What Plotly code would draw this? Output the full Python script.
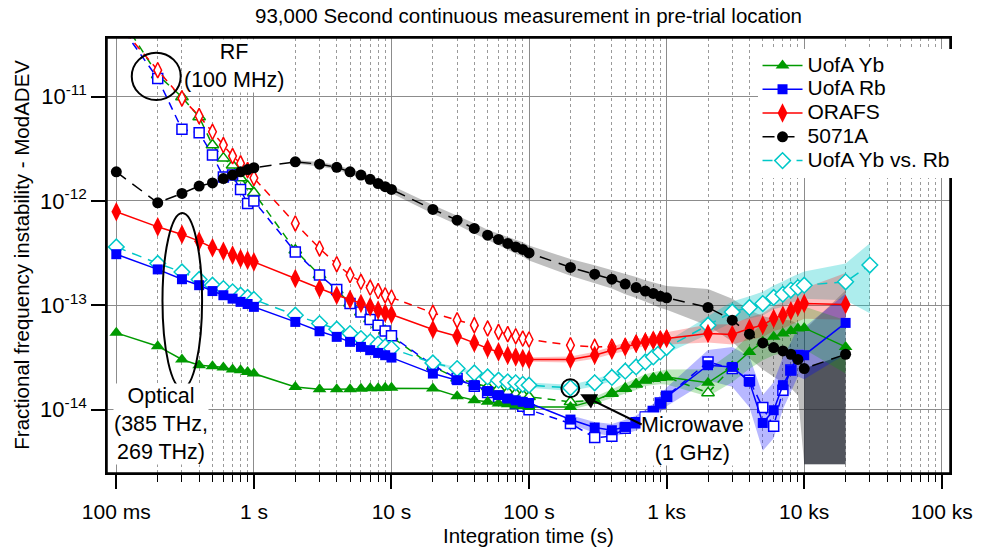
import plotly.graph_objects as go

# ---------------- data ----------------
taus = [0.1, 0.2, 0.3, 0.4, 0.5, 0.6, 0.7, 0.8, 0.9, 1,
        2, 3, 4, 5, 6, 7, 8, 9, 10,
        20, 30, 40, 50, 60, 70, 80, 90, 100,
        200, 300, 400, 500, 600, 700, 800, 900, 1000,
        2000, 3000, 4000, 5000, 6000, 7000, 8000, 9000, 10000, 20000]
taus_cyan = taus + [30000]
taus_red_rf = taus[:37]
taus_blue_rf = taus[:45]
taus_green_rf = taus[:39]

yb = [5.45e-14, 4.06e-14, 3.03e-14, 2.67e-14, 2.61e-14, 2.54e-14, 2.43e-14, 2.39e-14, 2.30e-14, 2.22e-14,
      1.65e-14, 1.57e-14, 1.57e-14, 1.57e-14, 1.59e-14, 1.61e-14, 1.61e-14, 1.62e-14, 1.62e-14,
      1.60e-14, 1.35e-14, 1.23e-14, 1.19e-14, 1.15e-14, 1.13e-14, 1.10e-14, 1.08e-14, 1.06e-14,
      1.06e-14, 1.23e-14, 1.43e-14, 1.60e-14, 1.75e-14, 1.92e-14, 1.99e-14, 2.04e-14, 2.06e-14,
      1.81e-14, 2.57e-14, 3.58e-14, 4.47e-14, 4.99e-14, 5.37e-14, 5.69e-14, 6.00e-14, 6.08e-14, 4.00e-14]
rb = [3.09e-13, 2.21e-13, 1.78e-13, 1.56e-13, 1.37e-13, 1.25e-13, 1.16e-13, 1.08e-13, 1.03e-13, 9.67e-14,
      6.94e-14, 5.65e-14, 4.99e-14, 4.47e-14, 4.00e-14, 3.72e-14, 3.50e-14, 3.33e-14, 3.16e-14,
      2.22e-14, 1.92e-14, 1.72e-14, 1.51e-14, 1.38e-14, 1.28e-14, 1.23e-14, 1.19e-14, 1.16e-14,
      8.05e-15, 6.75e-15, 6.36e-15, 6.84e-15, 7.47e-15, 8.41e-15, 9.53e-15, 1.15e-14, 1.33e-14,
      2.67e-14, 2.57e-14, 1.85e-14, 7.47e-15, 9.89e-15, 1.72e-14, 2.39e-14, 3.33e-14, 3.33e-14, 6.79e-14]
orafs = [7.87e-13, 5.65e-13, 4.78e-13, 4.12e-13, 3.56e-13, 3.30e-13, 3.03e-13, 2.81e-13, 2.71e-13, 2.61e-13,
         1.81e-13, 1.45e-13, 1.25e-13, 1.14e-13, 1.04e-13, 9.67e-14, 8.99e-14, 8.47e-14, 8.17e-14,
         5.87e-14, 5.06e-14, 4.37e-14, 3.86e-14, 3.58e-14, 3.33e-14, 3.21e-14, 3.10e-14, 3.03e-14,
         3.03e-14, 3.33e-14, 3.72e-14, 4.00e-14, 4.31e-14, 4.47e-14, 4.64e-14, 4.71e-14, 4.81e-14,
         5.37e-14, 5.26e-14, 6.00e-14, 6.46e-14, 7.48e-14, 8.05e-14, 8.85e-14, 9.67e-14, 1.04e-13, 1.02e-13]
cs5071 = [1.90e-12, 9.60e-13, 1.18e-12, 1.39e-12, 1.49e-12, 1.64e-12, 1.77e-12, 1.90e-12, 2.00e-12, 2.08e-12,
          2.37e-12, 2.25e-12, 2.10e-12, 1.90e-12, 1.77e-12, 1.61e-12, 1.47e-12, 1.37e-12, 1.29e-12,
          8.30e-13, 6.55e-13, 5.45e-13, 4.70e-13, 4.28e-13, 3.92e-13, 3.63e-13, 3.43e-13, 3.18e-13,
          2.31e-13, 1.99e-13, 1.78e-13, 1.60e-13, 1.48e-13, 1.37e-13, 1.30e-13, 1.22e-13, 1.18e-13,
          9.54e-14, 7.21e-14, 5.30e-14, 4.37e-14, 3.94e-14, 3.66e-14, 3.40e-14, 3.03e-14, 2.48e-14, 3.40e-14]
yb_vs_rb = [3.63e-13, 2.52e-13, 2.09e-13, 1.77e-13, 1.56e-13, 1.45e-13, 1.35e-13, 1.25e-13, 1.19e-13, 1.14e-13,
            8.05e-14, 6.70e-14, 5.91e-14, 5.37e-14, 4.81e-14, 4.47e-14, 4.25e-14, 4.00e-14, 3.86e-14,
            2.81e-14, 2.48e-14, 2.25e-14, 2.06e-14, 1.92e-14, 1.85e-14, 1.81e-14, 1.75e-14, 1.72e-14,
            1.62e-14, 1.81e-14, 2.04e-14, 2.34e-14, 2.57e-14, 2.87e-14, 3.21e-14, 3.58e-14, 3.94e-14,
            6.46e-14, 8.65e-14, 9.54e-14, 1.04e-13, 1.19e-13, 1.28e-13, 1.40e-13, 1.48e-13, 1.56e-13, 1.68e-13,
            2.43e-13]

orafs_rf = [5.2e-11, 1.79e-11, 9.6e-12, 6.5e-12, 4.6e-12, 3.43e-12, 2.69e-12, 2.29e-12, 1.98e-12, 1.66e-12,
            6.09e-13, 3.51e-13, 2.48e-13, 1.95e-13, 1.68e-13, 1.48e-13, 1.37e-13, 1.25e-13, 1.19e-13,
            8.47e-14, 7.21e-14, 6.46e-14, 6.00e-14, 5.57e-14, 5.30e-14, 5.06e-14, 4.81e-14, 4.71e-14,
            4.15e-14, 4.00e-14, 4.00e-14, 4.05e-14, 4.33e-14, 4.48e-14, 4.64e-14, 4.73e-14, 4.83e-14]
rb_rf = [5.4e-11, 1.49e-11, 4.85e-12, 4.50e-12, 2.75e-12, 1.70e-12, 1.77e-12, 1.29e-12, 9.47e-13, 1.00e-12,
         3.25e-13, 1.95e-13, 1.42e-13, 1.04e-13, 8.65e-14, 7.32e-14, 6.46e-14, 5.69e-14, 5.10e-14,
         2.67e-14, 1.99e-14, 1.68e-14, 1.46e-14, 1.32e-14, 1.23e-14, 1.15e-14, 1.08e-14, 1.00e-14,
         7.38e-15, 5.41e-15, 5.57e-15, 6.65e-15, 7.5e-15, 8.5e-15, 9.6e-15, 1.16e-14, 1.35e-14,
         2.87e-14, 2.48e-14, 1.92e-14, 1.05e-14, 6.95e-15, 1.54e-14, 2.4e-14, 3.3e-14]
yb_rf = [6.7e-11, 1.61e-11, 9.9e-12, 6.37e-12, 3.43e-12, 2.57e-12, 2.20e-12, 1.66e-12, 1.39e-12, 1.20e-12,
         3.38e-13, 1.95e-13, 1.40e-13, 1.05e-13, 8.6e-14, 7.4e-14, 6.5e-14, 5.7e-14, 5.0e-14,
         2.59e-14, 2.0e-14, 1.8e-14, 1.66e-14, 1.60e-14, 1.48e-14, 1.43e-14, 1.39e-14, 1.33e-14,
         1.19e-14, 1.23e-14, 1.43e-14, 1.60e-14, 1.75e-14, 1.92e-14, 1.99e-14, 2.04e-14, 2.06e-14,
         1.45e-14, 2.57e-14]

# uncertainty bands: multiplicative factors (up / down) read from the shaded areas
gray_band_up = [1.04, 1.05, 1.05, 1.06, 1.06, 1.07, 1.07, 1.08, 1.09,
                1.10, 1.11, 1.12, 1.13, 1.14, 1.15, 1.16, 1.17, 1.18,
                1.20, 1.22, 1.23, 1.25, 1.26, 1.27, 1.28, 1.29, 1.30,
                1.50, 1.60, 1.70, 1.80, 1.90, 2.00, 2.10, 2.20, 2.33, 4.10]
gray_band_down = [1.04, 1.05, 1.05, 1.06, 1.06, 1.07, 1.07, 1.08, 1.09,
                  1.10, 1.11, 1.12, 1.13, 1.14, 1.15, 1.16, 1.17, 1.18,
                  1.20, 1.22, 1.23, 1.25, 1.26, 1.27, 1.28, 1.29, 1.30,
                  1.50, 1.60, 1.70, 1.80, 1.90, 2.00, 2.10, 2.20, 8.27, 11.3]
red_band_up = [1.05, 1.07, 1.08, 1.09, 1.10, 1.10, 1.11, 1.12, 1.13, 1.15,
               1.22, 1.25, 1.28, 1.30, 1.32, 1.34, 1.36, 1.38, 1.40, 2.00]
red_band_down = [1.05, 1.07, 1.08, 1.09, 1.10, 1.10, 1.11, 1.12, 1.13, 1.15,
                 1.22, 1.25, 1.28, 1.30, 1.32, 1.34, 1.36, 1.38, 1.40, 1.40]
blue_band_up = [1.10, 1.13, 1.15, 1.17, 1.18, 1.19, 1.20, 1.21, 1.23,
                1.40, 1.55, 1.75, 1.85, 1.85, 1.85, 1.85, 1.85, 1.85, 1.90]
blue_band_down = [1.10, 1.13, 1.15, 1.17, 1.18, 1.19, 1.20, 1.21, 1.23,
                  1.40, 1.55, 1.75, 1.85, 1.85, 1.70, 1.60, 1.60, 1.70, 2.00]
green_band = [1.06, 1.08, 1.10, 1.12, 1.13, 1.14, 1.15, 1.16, 1.18,
              1.35, 1.40, 1.45, 1.50, 1.50, 1.52, 1.55, 1.58, 1.60, 1.80]
cyan_band_up = [1.03, 1.03, 1.04, 1.04, 1.04, 1.05, 1.05, 1.05, 1.06,
                1.07, 1.08, 1.09, 1.10, 1.10, 1.11, 1.12, 1.13, 1.14,
                1.22, 1.26, 1.28, 1.30, 1.30, 1.32, 1.33, 1.34, 1.35, 1.50, 1.62]
cyan_band_down = [1.03, 1.03, 1.04, 1.04, 1.04, 1.05, 1.05, 1.05, 1.06,
                  1.07, 1.08, 1.09, 1.10, 1.10, 1.11, 1.12, 1.13, 1.14,
                  1.22, 1.26, 1.28, 1.30, 1.30, 1.32, 1.33, 1.34, 1.35, 1.50, 2.90]
dark_floor = [3.0e-15, 3.0e-15]

x_tickvals = [0.1, 1, 10, 100, 1000, 10000, 100000]
x_ticktext = ["100 ms", "1 s", "10 s", "100 s", "1 ks", "10 ks", "100 ks"]
x_minor = [m * d for d in [0.1, 1, 10, 100, 1000, 10000] for m in range(2, 10)]
y_tickvals = [1e-11, 1e-12, 1e-13, 1e-14]
y_ticktext = ["10<sup>-11</sup>", "10<sup>-12</sup>", "10<sup>-13</sup>", "10<sup>-14</sup>"]

# ---------------- styling ----------------
GREEN = "#009a00"
BLUE = "#0000ff"
RED = "#ff0000"
BLACK = "#000000"
CYAN = "#00c8c8"
FONT = "Arial, Liberation Sans, sans-serif"

L, R, T, B = 107.3, 958.3, 38.0, 472.7
def pxx(x):
    return (x - L) / (R - L)
def pxy(y):
    return (B - y) / (B - T)

fig = go.Figure()

def band(tx, vals, up, down, color):
    start = len(tx) - len(up)
    xs = tx[start:]
    vs = vals[start:]
    hi = [v * f for v, f in zip(vs, up)]
    lo = [v / f for v, f in zip(vs, down)]
    fig.add_trace(go.Scatter(x=xs + xs[::-1], y=hi + lo[::-1], fill="toself",
                             fillcolor=color, line=dict(width=0), mode="lines",
                             showlegend=False, hoverinfo="skip"))

band(taus, cs5071, gray_band_up, gray_band_down, "rgba(0,0,0,0.25)")
fig.add_trace(go.Scatter(x=taus[-2:] + taus[-2:][::-1], y=cs5071[-2:] + dark_floor[::-1],
                         fill="toself", fillcolor="rgba(45,50,60,0.75)", line=dict(width=0),
                         mode="lines", showlegend=False, hoverinfo="skip"))
band(taus_cyan, yb_vs_rb, cyan_band_up, cyan_band_down, "rgba(0,200,200,0.32)")
band(taus, orafs, red_band_up, red_band_down, "rgba(255,0,0,0.25)")
band(taus, rb, blue_band_up, blue_band_down, "rgba(0,0,255,0.28)")
band(taus, yb, green_band, green_band, "rgba(0,160,0,0.25)")

def rf(tx, vals, color, sym, size):
    fig.add_trace(go.Scatter(x=tx, y=vals, mode="lines+markers", showlegend=False,
                             line=dict(color=color, width=1.5, dash="8px,6px"),
                             marker=dict(symbol=sym, size=size, color="white",
                                         line=dict(color=color, width=1.5))))

rf(taus_green_rf, yb_rf, GREEN, "triangle-up", 11)
rf(taus_blue_rf, rb_rf, BLUE, "square", 10)
rf(taus_red_rf, orafs_rf, RED, "diamond-tall", 11)

def lname(s):
    return '<span style="font-size:21px">' + s + '</span>'

fig.add_trace(go.Scatter(x=taus_cyan, y=yb_vs_rb, mode="lines+markers", name=lname("UofA Yb vs. Rb"),
                         legendrank=5,
                         line=dict(color=CYAN, width=1.5, dash="10px,7px"),
                         marker=dict(symbol="diamond", size=12, color="white",
                                     line=dict(color=CYAN, width=1.5))))
fig.add_trace(go.Scatter(x=taus, y=yb, mode="lines+markers", name=lname("UofA Yb"), legendrank=1,
                         line=dict(color=GREEN, width=1.5),
                         marker=dict(symbol="triangle-up", size=12, color=GREEN)))
fig.add_trace(go.Scatter(x=taus, y=rb, mode="lines+markers", name=lname("UofA Rb"), legendrank=2,
                         line=dict(color=BLUE, width=1.5),
                         marker=dict(symbol="square", size=10, color=BLUE)))
fig.add_trace(go.Scatter(x=taus, y=orafs, mode="lines+markers", name=lname("ORAFS"), legendrank=3,
                         line=dict(color=RED, width=1.5),
                         marker=dict(symbol="diamond-tall", size=14, color=RED)))
fig.add_trace(go.Scatter(x=taus, y=cs5071, mode="lines+markers", name=lname("5071A"), legendrank=4,
                         line=dict(color=BLACK, width=1.5, dash="12px,8px"),
                         marker=dict(symbol="circle", size=11, color=BLACK)))

ann_font = dict(family=FONT, size=21.5, color="black")
annotations = [
    dict(text="RF<br>(100 MHz)", x=pxx(236), y=pxy(66), xref="paper", yref="paper",
         xanchor="center", yanchor="middle",
         showarrow=False, font=ann_font, bgcolor="white", borderpad=0),
    dict(text="Optical<br>(385 THz,<br>269 THz)", x=pxx(162), y=pxy(424), xref="paper", yref="paper",
         xanchor="center", yanchor="middle",
         showarrow=False, font=ann_font, bgcolor="white", borderpad=0),
    dict(text="Microwave<br>(1 GHz)", x=pxx(698), y=pxy(439), xref="paper", yref="paper",
         xanchor="center", yanchor="middle",
         showarrow=False, font=ann_font, bgcolor="white", borderpad=0),
    dict(text="", x=pxx(585), y=pxy(394), xref="paper", yref="paper", showarrow=True,
         ax=63, ay=31, axref="pixel", ayref="pixel", arrowhead=2, arrowsize=1.6,
         arrowwidth=2, arrowcolor="black"),
    dict(text="Integration time (s)", x=0.5, y=pxy(535.5), xref="paper", yref="paper",
         xanchor="center", yanchor="middle",
         showarrow=False, font=dict(family=FONT, size=20.5, color="black")),
    dict(text="Fractional frequency instability - ModADEV", x=pxx(21), y=pxy(255),
         xref="paper", yref="paper", textangle=-90, showarrow=False,
         xanchor="center", yanchor="middle",
         font=dict(family=FONT, size=20.5, color="black")),
]

shapes = [
    dict(type="circle", xref="paper", yref="paper", x0=pxx(132.3), x1=pxx(181.7),
         y0=pxy(100), y1=pxy(52.7), line=dict(color="black", width=2)),
    dict(type="circle", xref="paper", yref="paper", x0=pxx(163.3), x1=pxx(203.3),
         y0=pxy(388), y1=pxy(213), line=dict(color="black", width=2)),
    dict(type="circle", xref="paper", yref="paper", x0=pxx(566), x1=pxx(584),
         y0=pxy(397), y1=pxy(379), line=dict(color="black", width=2)),
    dict(type="rect", xref="paper", yref="paper", x0=0, x1=1, y0=0, y1=1,
         line=dict(color="black", width=1.5), layer="above"),
]

fig.update_layout(
    width=985, height=548,
    margin=dict(l=L, r=985 - R, t=T, b=548 - B, pad=0),
    paper_bgcolor="white", plot_bgcolor="white",
    font=dict(family=FONT, size=20, color="black"),
    title=dict(text="93,000 Second continuous measurement in pre-trial location",
               x=0.5, xref="paper", y=1 - 16 / 548, yref="container", yanchor="middle",
               font=dict(family=FONT, size=20.5, color="black")),
    showlegend=True,
    legend=dict(x=pxx(764), y=pxy(48.5), xanchor="left", yanchor="top",
                bgcolor="white", borderwidth=0, font=dict(family=FONT, size=16),
                itemwidth=40, tracegroupgap=0),
    annotations=annotations,
    shapes=shapes,
)

fig.update_xaxes(type="log", range=[-1.0677, 5.0598],
                 tickmode="array", tickvals=x_tickvals, ticktext=x_ticktext,
                 ticks="outside", ticklen=14, tickwidth=1.5, tickcolor="black",
                 ticklabelstandoff=5,
                 tickfont=dict(family=FONT, size=21),
                 showline=True, linecolor="black", linewidth=1.5, mirror=True,
                 showgrid=True, gridcolor="#8c8c8c", gridwidth=1,
                 minor=dict(tickmode="array", tickvals=x_minor, ticks="outside", ticklen=7,
                            tickwidth=1, tickcolor="black", showgrid=True,
                            gridcolor="#9a9a9a", griddash="3px,3px", gridwidth=1),
                 zeroline=False)
fig.update_yaxes(type="log", range=[-14.606, -10.439],
                 tickmode="array", tickvals=y_tickvals, ticktext=y_ticktext,
                 ticks="outside", ticklen=14, tickwidth=1.5, tickcolor="black",
                 tickfont=dict(family=FONT, size=22),
                 showline=True, linecolor="black", linewidth=1.5, mirror=True,
                 showgrid=True, gridcolor="#8c8c8c", gridwidth=1, zeroline=False)

fig.write_html("out.html")
